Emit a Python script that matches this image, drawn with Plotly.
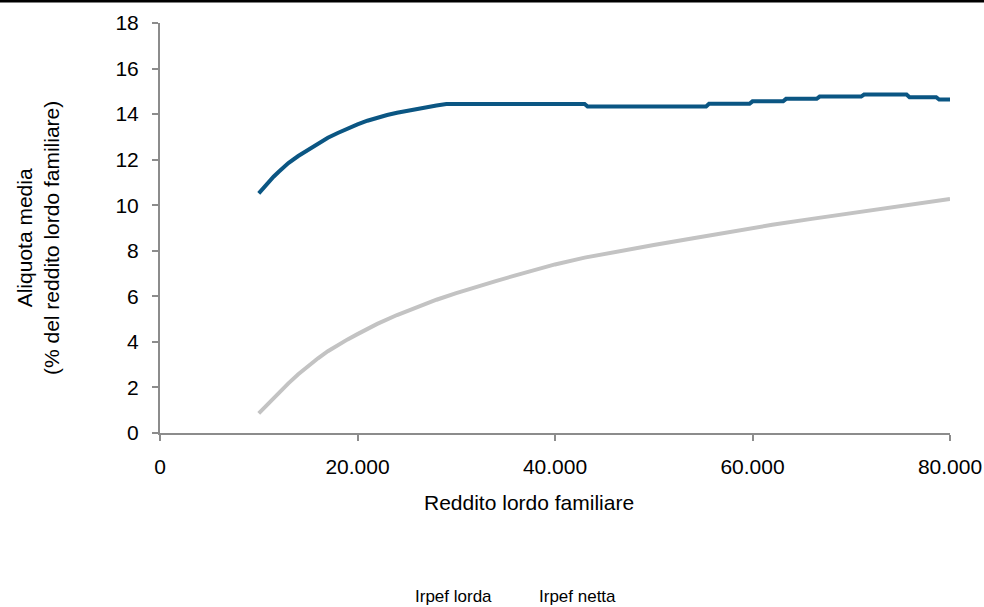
import plotly.graph_objects as go

# Data
lorda_x = [10000, 10500, 11000, 11500, 12000, 12500, 13000, 14000, 15000, 16000, 17000, 18000, 19000,
           20000, 21000, 22000, 23000, 24000, 25000, 26000, 27000, 28000, 29000,
           43000, 43300, 55300, 55600, 59700, 60000, 63100, 63400, 66500, 66800,
           71000, 71300, 75600, 75900, 78600, 78900, 80000]
lorda_y = [10.52, 10.78, 11.02, 11.25, 11.46, 11.66, 11.85, 12.16, 12.44, 12.72, 12.96, 13.17, 13.37,
           13.55, 13.71, 13.85, 13.96, 14.06, 14.15, 14.23, 14.3, 14.38, 14.44,
           14.44, 14.33, 14.33, 14.45, 14.45, 14.56, 14.56, 14.67, 14.67, 14.77,
           14.77, 14.86, 14.86, 14.74, 14.74, 14.64, 14.64]

netta_x = [10000, 10500, 11000, 11500, 12000, 13000, 14000, 15000, 16000, 17000, 18000, 19000,
           20000, 22000, 24000, 26000, 28000, 30000, 32000, 34000, 36000, 38000,
           40000, 43000, 46000, 50000, 54000, 58000, 62000, 66000, 70000, 74000,
           77000, 80000]
netta_y = [0.86, 1.09, 1.31, 1.53, 1.75, 2.18, 2.58, 2.94, 3.28, 3.59, 3.87, 4.11,
           4.34, 4.79, 5.18, 5.52, 5.85, 6.14, 6.42, 6.67, 6.92, 7.17,
           7.4, 7.7, 7.95, 8.25, 8.55, 8.85, 9.14, 9.4, 9.65, 9.92,
           10.1, 10.27]

series_names = ["Irpef lorda", "Irpef netta"]
x_ticks = [0, 20000, 40000, 60000, 80000]
y_ticks = [0, 2, 4, 6, 8, 10, 12, 14, 16, 18]

FONT = "Liberation Sans, Arial, sans-serif"
AXIS_COLOR = "#8c8c8c"

fig = go.Figure()
fig.add_trace(go.Scatter(x=lorda_x, y=lorda_y, mode="lines", name=series_names[0],
                         line=dict(color="#0b5683", width=4)))
fig.add_trace(go.Scatter(x=netta_x, y=netta_y, mode="lines", name=series_names[1],
                         line=dict(color="#c3c3c3", width=4)))

W, H = 984, 607
L, R, T, B = 160, 34, 23, 174
pw, ph = W - L - R, H - T - B

def px(xp):
    return (xp - L) / pw

def py(yp):
    return (H - B - yp) / ph

fig.update_layout(
    width=W, height=H,
    margin=dict(l=L, r=R, t=T, b=B, pad=0, autoexpand=False),
    paper_bgcolor="white", plot_bgcolor="white",
    showlegend=False,
    separators=",.",
    font=dict(family=FONT, size=21, color="#000000"),
    xaxis=dict(range=[0, 80000], tickvals=x_ticks, tickformat=",d",
               showgrid=False, zeroline=False, showline=True, linecolor=AXIS_COLOR,
               linewidth=2, ticks="outside", ticklen=6, tickcolor=AXIS_COLOR, tickwidth=2,
               ticklabelstandoff=8, ticklabeloverflow="allow", automargin=False,
               tickfont=dict(family=FONT, size=21)),
    yaxis=dict(range=[0, 18], tickvals=y_ticks,
               showgrid=False, zeroline=False, showline=True, linecolor=AXIS_COLOR,
               linewidth=2, ticks="outside", ticklen=6, tickcolor=AXIS_COLOR, tickwidth=2,
               ticklabelstandoff=9, automargin=False,
               tickfont=dict(family=FONT, size=21)),
)

annotations = [
    dict(text="Reddito lordo familiare", x=px(529), y=py(503), xref="paper", yref="paper",
         showarrow=False, font=dict(family=FONT, size=21), xanchor="center", yanchor="middle"),
    dict(text="Aliquota media<br>(% del reddito lordo familiare)", x=px(38), y=py(238),
         xref="paper", yref="paper", textangle=-90, showarrow=False,
         font=dict(family=FONT, size=21), xanchor="center", yanchor="middle"),
    dict(text=series_names[0], x=px(453), y=py(596), xref="paper", yref="paper",
         showarrow=False, font=dict(family=FONT, size=17), xanchor="center", yanchor="middle"),
    dict(text=series_names[1], x=px(577), y=py(596), xref="paper", yref="paper",
         showarrow=False, font=dict(family=FONT, size=17), xanchor="center", yanchor="middle"),
]
fig.update_layout(annotations=annotations)

fig.add_shape(type="line", xref="paper", yref="paper",
              x0=px(0), x1=px(W), y0=py(1), y1=py(1),
              line=dict(color="black", width=3))

fig.write_html("out.html", config={"displayModeBar": False},
               post_script="document.body.style.margin='0';document.body.style.overflow='hidden';")
